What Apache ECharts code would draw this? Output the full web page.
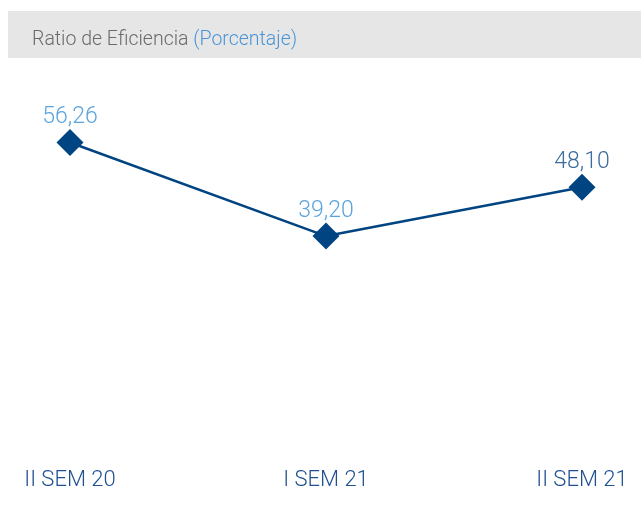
<!DOCTYPE html>
<html>
<head>
<meta charset="utf-8">
<script src="https://cdn.jsdelivr.net/npm/echarts@6/dist/echarts.min.js"></script>
<style>
  html, body { margin: 0; padding: 0; background: #fff; }
  #chart { width: 641px; height: 505px; }
</style>
</head>
<body>
<div id="chart"></div>
<script>
// Semesters and efficiency ratio (%)
const categories = ['II SEM 20', 'I SEM 21', 'II SEM 21'];
const ratioValues = [56.26, 39.20, 48.10];
const labelColors = ['#5ba3dc', '#5ba3dc', '#3d6c9f'];

const fmt = v => v.toFixed(2).replace('.', ',');

const chart = echarts.init(document.getElementById('chart'), null, { renderer: 'canvas' });

chart.setOption({
  animation: false,
  backgroundColor: '#ffffff',
  graphic: [
    {
      type: 'rect',
      shape: { x: 8, y: 11, width: 633, height: 47 },
      style: { fill: '#e6e6e6' },
      z: 0
    }
  ],
  title: {
    left: 27,
    top: 25,
    padding: 5,
    text: '{a|Ratio de Eficiencia }{b|(Porcentaje)}',
    textStyle: {
      rich: {
        a: { fontFamily: 'Roboto', fontSize: 19.5, fontWeight: 300, color: '#6a6a6a' },
        b: { fontFamily: 'Roboto', fontSize: 19.5, fontWeight: 300, color: '#4a94d6' }
      }
    }
  },
  grid: { left: 70, right: 59, top: 122, bottom: 54 },
  xAxis: {
    type: 'category',
    data: categories,
    boundaryGap: false,
    axisLine: { show: false },
    axisTick: { show: false },
    splitLine: { show: false },
    axisLabel: {
      margin: 18,
      fontFamily: 'Roboto',
      fontSize: 22,
      fontWeight: 300,
      color: '#1f5190'
    }
  },
  yAxis: {
    type: 'value',
    min: 0,
    max: 60,
    show: false
  },
  series: [
    {
      type: 'line',
      data: ratioValues.map((v, i) => ({
        value: v,
        label: { color: labelColors[i] }
      })),
      symbol: 'diamond',
      symbolSize: 27,
      lineStyle: { color: '#004481', width: 2.5 },
      itemStyle: { color: '#004481' },
      label: {
        show: true,
        position: 'top',
        distance: 0,
        fontFamily: 'Roboto',
        fontSize: 23,
        fontWeight: 300,
        formatter: p => fmt(p.value)
      }
    }
  ]
});
</script>
</body>
</html>
